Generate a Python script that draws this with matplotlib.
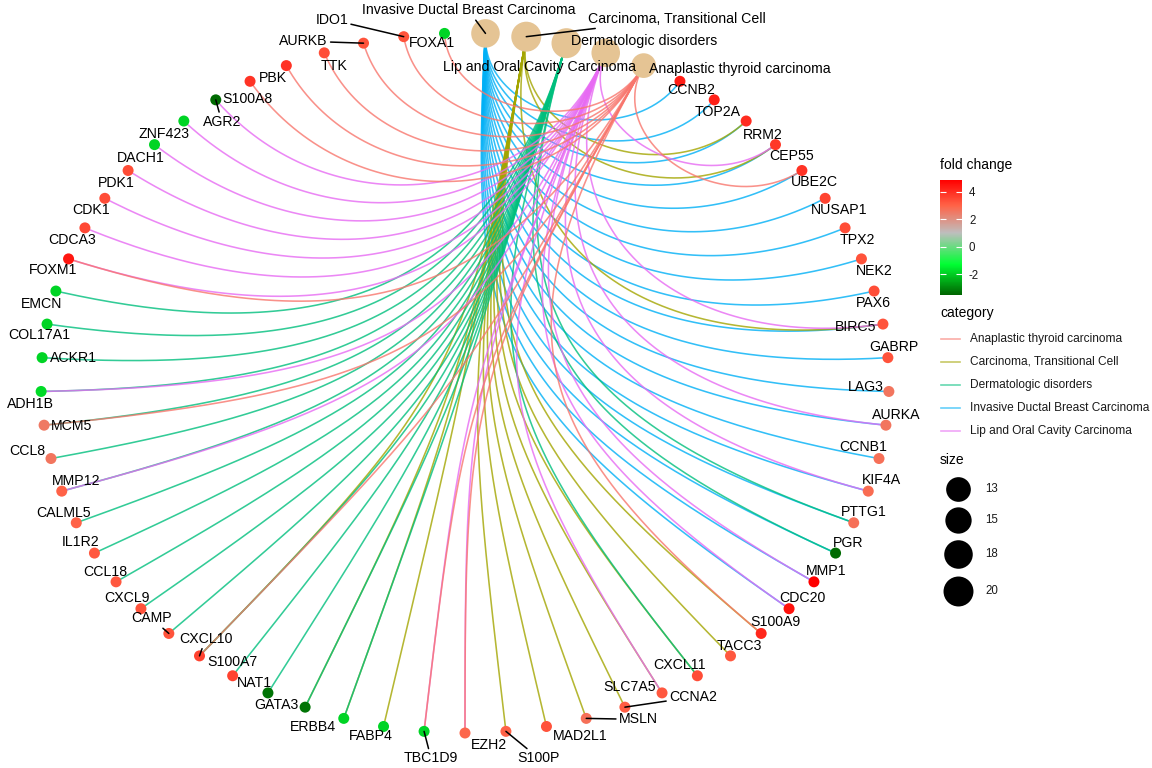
import numpy as np
import matplotlib.pyplot as plt
from matplotlib.colors import LinearSegmentedColormap, Normalize
from matplotlib.cm import ScalarMappable
from matplotlib.ticker import FuncFormatter

plt.rcParams['font.family'] = ['Liberation Sans', 'DejaVu Sans']

# ---- data -------------------------------------------------------------
categories = ["Invasive Ductal Breast Carcinoma", "Carcinoma, Transitional Cell",
              "Dermatologic disorders", "Lip and Oral Cavity Carcinoma",
              "Anaplastic thyroid carcinoma"]
category_size = [18, 20, 20, 18, 13]

genes = ["CCNB2", "TOP2A", "RRM2", "CEP55", "UBE2C", "NUSAP1", "TPX2", "NEK2",
         "PAX6", "BIRC5", "GABRP", "LAG3", "AURKA", "CCNB1", "KIF4A", "PTTG1",
         "PGR", "MMP1", "CDC20", "S100A9", "TACC3", "CXCL11", "SLC7A5", "CCNA2",
         "MSLN", "MAD2L1", "S100P", "EZH2", "TBC1D9", "FABP4", "ERBB4", "GATA3",
         "NAT1", "S100A7", "CXCL10", "CAMP", "CXCL9", "CCL18", "IL1R2", "CALML5",
         "MMP12", "CCL8", "MCM5", "ADH1B", "ACKR1", "COL17A1", "EMCN", "FOXM1",
         "CDCA3", "CDK1", "PDK1", "DACH1", "ZNF423", "AGR2", "S100A8", "PBK",
         "TTK", "AURKB", "IDO1", "FOXA1"]
fold_change = [4.3, 4.2, 4.0, 3.8, 3.9, 3.6, 3.4, 3.3,
               3.4, 3.3, 3.3, 2.6, 2.6, 2.7, 2.8, 2.7,
               -3.4, 4.85, 4.5, 4.1, 3.2, 3.4, 3.2, 3.1,
               2.7, 3.3, 3.0, 2.9, -1.9, -1.9, -1.9, -3.3,
               -3.3, 3.6, 3.6, 3.3, 3.3, 3.2, 3.2, 3.0,
               3.0, 2.6, 2.5, -1.8, -1.9, -1.9, -1.9, 4.4,
               3.5, 3.4, 3.4, -1.9, -1.9, -3.4, 3.9, 3.9,
               3.4, 3.3, 3.3, -1.9]

members = {
    "Invasive Ductal Breast Carcinoma": ["CCNB2", "TOP2A", "RRM2", "CEP55", "UBE2C", "NUSAP1",
                                         "TPX2", "NEK2", "PAX6", "BIRC5", "GABRP", "LAG3",
                                         "AURKA", "CCNB1", "KIF4A", "PTTG1", "PGR", "MMP1",
                                         "CDC20"],
    "Carcinoma, Transitional Cell": ["RRM2", "CEP55", "BIRC5", "S100A9", "TACC3", "CXCL11",
                                     "SLC7A5", "CCNA2", "MSLN", "MAD2L1", "S100P", "FABP4",
                                     "ERBB4", "GATA3", "CXCL10"],
    "Dermatologic disorders": ["EMCN", "COL17A1", "ACKR1", "ADH1B", "MCM5", "CCL8", "MMP12",
                               "CALML5", "IL1R2", "CCL18", "CXCL9", "CAMP", "CXCL10", "S100A7",
                               "NAT1", "GATA3", "ERBB4", "CXCL11", "PTTG1", "PGR"],
    "Lip and Oral Cavity Carcinoma": ["AGR2", "ZNF423", "DACH1", "PDK1", "CDK1", "CDCA3",
                                      "FOXM1", "ADH1B", "MMP12", "TBC1D9", "EZH2", "SLC7A5",
                                      "CDC20", "MMP1", "KIF4A", "AURKA", "BIRC5", "CEP55"],
    "Anaplastic thyroid carcinoma": ["FOXA1", "IDO1", "AURKB", "TTK", "PBK", "S100A8", "FOXM1",
                                     "MCM5", "CXCL10", "TBC1D9", "EZH2", "S100A9", "UBE2C"],
}

size_breaks = [13, 15, 18, 20]
fc_ticks = [-2, 0, 2, 4]
fc_min, fc_max = -3.53, 4.85

# label placement (pixel offsets from node, y down) and which get a leader line
label_offset = {
    "CCNB2": (11, 9), "TOP2A": (3, 12), "RRM2": (17, 14), "CEP55": (16, 11), "UBE2C": (13, 12),
    "NUSAP1": (14, 12), "TPX2": (12, 12), "NEK2": (13, 12), "PAX6": (-1, 12), "BIRC5": (-27, 3),
    "GABRP": (6, -11), "LAG3": (-23, -4), "AURKA": (10, -10), "CCNB1": (-16, -12),
    "KIF4A": (13, -11), "PTTG1": (10, -11), "PGR": (13, -10), "MMP1": (12, -11),
    "CDC20": (13, -11), "S100A9": (14, -11), "TACC3": (9, -10), "CXCL11": (-18, -11),
    "SLC7A5": (-32, -6), "CCNA2": (68, -10), "MSLN": (52, 1), "MAD2L1": (34, 10),
    "S100P": (33, 27), "EZH2": (24, 12), "TBC1D9": (7, 27), "FABP4": (-13, 10),
    "ERBB4": (-31, 9), "GATA3": (-29, -2), "NAT1": (-13, -10), "S100A7": (0, -14),
    "CXCL10": (6, -17), "CAMP": (-17, -15), "CXCL9": (-14, -11), "CCL18": (-11, -10),
    "IL1R2": (-14, -11), "CALML5": (-13, -10), "MMP12": (14, -10), "CCL8": (-24, -8),
    "MCM5": (27, 1), "ADH1B": (-11, 13), "ACKR1": (31, 0), "COL17A1": (-8, 11),
    "EMCN": (-14, 13), "FOXM1": (-15, 11), "CDCA3": (-13, 12), "CDK1": (-14, 12),
    "PDK1": (-12, 13), "DACH1": (-14, 13), "ZNF423": (-20, 13), "AGR2": (6, 22),
    "S100A8": (-3, 18), "PBK": (-13, 12), "TTK": (10, 13), "AURKB": (-60, -2),
    "IDO1": (-72, -17), "FOXA1": (-13, 10),
    "Invasive Ductal Breast Carcinoma": (-17, -23), "Carcinoma, Transitional Cell": (151, -18),
    "Dermatologic disorders": (78, -2), "Lip and Oral Cavity Carcinoma": (-66, 14),
    "Anaplastic thyroid carcinoma": (96, 3),
}
leader = {"CCNA2", "MSLN", "S100P", "TBC1D9", "CXCL10", "CAMP", "AGR2", "AURKB", "IDO1",
          "Invasive Ductal Breast Carcinoma", "Carcinoma, Transitional Cell"}

legend_order = sorted(categories)
edge_colors = dict(zip(legend_order, ["#F8766D", "#A3A500", "#00BF7D", "#00B0F6", "#E76BF3"]))

# fold change colour scale
def pos(v):
    return (v - fc_min) / (fc_max - fc_min)
cmap = LinearSegmentedColormap.from_list(
    "fc", [(0, "#006400"), (pos(-1.3), "#00FF33"), (pos(1.0), "#BEBEBE"),
           (pos(3.0), "#FF6347"), (1, "#FF0000")])
norm = Normalize(fc_min, fc_max)

def diam(n):
    return np.sqrt(77 + 41 * n)   # pixels

# ---- layout -------------------------------------------------------------
nodes = categories + genes
n = len(nodes)
step = 2 * np.pi / n
theta = np.pi / 2 - step / 2 - step * np.arange(n)
ux, uy = np.cos(theta), np.sin(theta)
idx = {name: i for i, name in enumerate(nodes)}

W, H = 1152, 768
fig = plt.figure(figsize=(W / 100, H / 100), dpi=100)
ax = fig.add_axes([41 / W, 35 / H, 848 / W, 700 / H])
ax.set_xlim(-1, 1)
ax.set_ylim(-1, 1)
ax.axis('off')

# edges: cubic bezier, controls pulled toward the centre
t = np.linspace(0, 1, 150)[:, None]
for cat in categories:
    for g in members[cat]:
        a, b = idx[cat], idx[g]
        p0 = np.array([ux[a], uy[a]])
        p3 = np.array([ux[b], uy[b]])
        d = abs((theta[a] - theta[b] + np.pi) % (2 * np.pi) - np.pi)
        f = 1 - np.sin(d / 2)
        c = (1 - t) ** 3 * p0 + 3 * (1 - t) ** 2 * t * f * p0 + 3 * (1 - t) * t ** 2 * f * p3 + t ** 3 * p3
        ax.plot(c[:, 0], c[:, 1], color=edge_colors[cat], alpha=0.8, lw=1.15, zorder=1,
                clip_on=False)

# nodes
gi = [idx[g] for g in genes]
ax.scatter(ux[gi], uy[gi], s=(11 * 0.72) ** 2, c=fold_change, cmap=cmap, norm=norm,
           linewidths=0, zorder=3, clip_on=False)
ci = [idx[c] for c in categories]
ax.scatter(ux[ci], uy[ci], s=[(diam(v) * 0.72) ** 2 for v in category_size],
           color="#E5C494", linewidths=0, zorder=3, clip_on=False)

# labels
for name in nodes:
    i = idx[name]
    dx, dy = label_offset[name]
    kw = {}
    if name in leader:
        kw['arrowprops'] = dict(arrowstyle='-', color='black', lw=1.1, shrinkA=0, shrinkB=0)
    ax.annotate(name, xy=(ux[i], uy[i]), xytext=(dx, -dy), textcoords='offset pixels',
                ha='center', va='center', fontsize=10.2, color='black', zorder=5,
                annotation_clip=False, **kw)

# ---- legends ------------------------------------------------------------
cax = fig.add_axes([940 / W, (H - 295) / H, 22 / W, 115 / H])
cb = fig.colorbar(ScalarMappable(norm=norm, cmap=cmap), cax=cax)
cb.outline.set_visible(False)
cb.set_ticks(fc_ticks)
cax.yaxis.set_major_formatter(FuncFormatter(lambda v, p: "%d" % v))
cax.tick_params(direction='in', length=4, color='white', width=0.8, left=True, right=True,
                labelsize=8.3, pad=5, labelcolor='#1a1a1a')

lax = fig.add_axes([930 / W, 0, 222 / W, 1])
lax.set_xlim(930, 1152)
lax.set_ylim(768, 0)
lax.axis('off')
lax.text(940, 165, "fold change", fontsize=10, va='center')
lax.text(940, 313, "category", fontsize=10, va='center')
for i, cat in enumerate(legend_order):
    y = 339 + 23 * i
    lax.plot([941, 960], [y, y], color=edge_colors[cat], alpha=0.6, lw=1.2)
    lax.text(970, y, cat, fontsize=8.6, va='center', color='#1a1a1a')
lax.text(940, 460, "size", fontsize=10, va='center')
for i, v in enumerate(size_breaks):
    y = [489, 520, 554, 591][i]
    lax.scatter(958, y, s=(diam(v) * 0.72) ** 2, color='black', linewidths=0)
    lax.text(985, y, str(v), fontsize=8.3, va='center', color='#1a1a1a')

fig.savefig("out.png", dpi=100)
